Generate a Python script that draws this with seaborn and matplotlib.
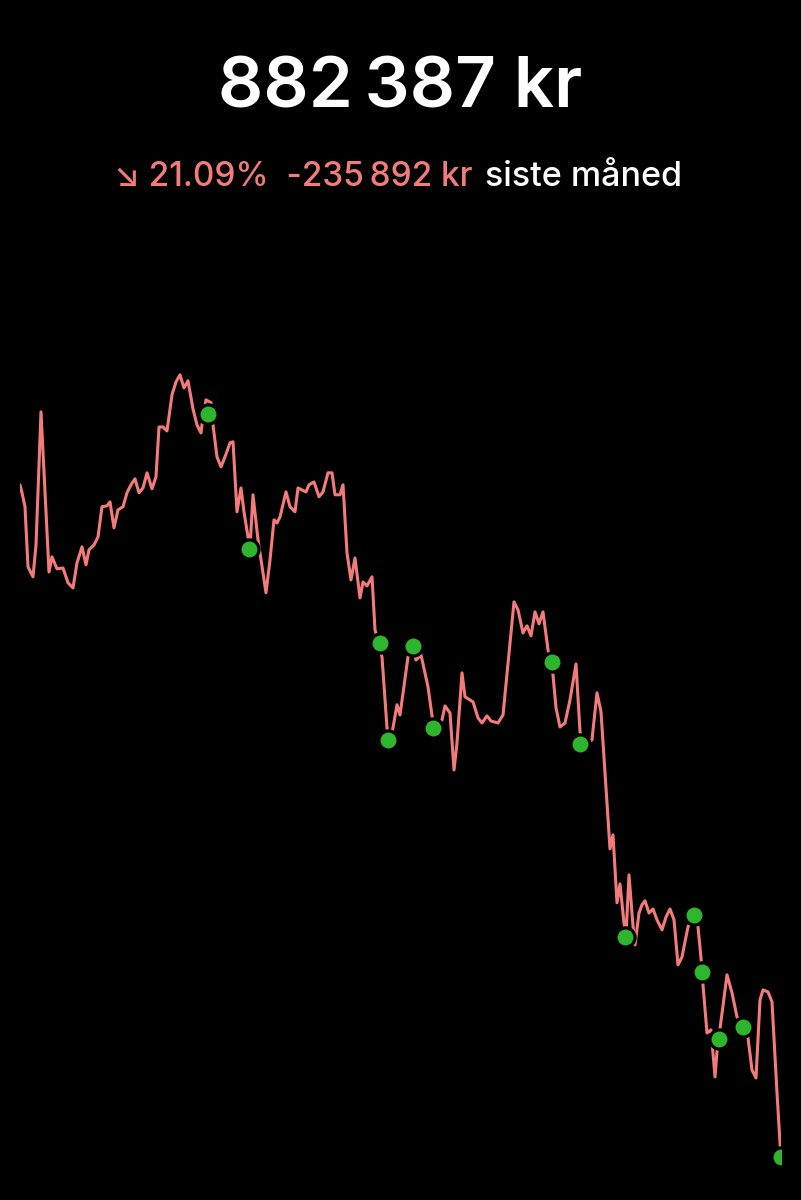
import pandas as pd
import matplotlib.pyplot as plt
import seaborn as sns

# Portfolio value last month (hours since start, kr)
hours = [0, 2, 5, 8, 13, 16, 21, 25, 29, 32, 37, 43, 48, 53, 57, 62, 66, 69, 74, 78,
         82, 87, 90, 94, 98, 103, 107, 111, 115, 119, 123, 127, 132, 136, 139, 143, 147, 152, 156, 160,
         164, 168, 173, 177, 181, 182, 186, 191, 193, 197, 201, 205, 210, 213, 217, 221, 224, 228, 230, 233,
         238, 246, 250, 254, 257, 260, 266, 270, 275, 278, 282, 286, 289, 294, 299, 303, 308, 312, 315, 320,
         323, 327, 331, 335, 340, 343, 347, 352, 355, 359, 362, 367, 369, 373, 377, 380, 388, 392, 396, 401,
         408, 412, 414, 422, 425, 430, 434, 437, 442, 445, 453, 458, 462, 467, 471, 478, 483, 494, 498, 503,
         507, 511, 515, 519, 523, 528, 531, 533, 536, 540, 545, 550, 556, 560, 564, 572, 577, 581, 590, 593,
         597, 600, 604, 606, 609, 613, 615, 619, 622, 625, 629, 633, 637, 642, 646, 650, 654, 658, 662, 668,
         674, 678, 681, 683, 687, 691, 695, 697, 707, 712, 717, 723, 728, 732, 736, 740, 743, 748, 752, 757,
         760, 761]
value_k = [1118.3, 1115.5, 1110.6, 1089.5, 1086.0, 1097.2, 1143.9, 1115.5, 1087.7, 1093.0,
           1088.8, 1089.1, 1083.9, 1082.1, 1090.9, 1096.5, 1090.2, 1095.5, 1097.2, 1100.0,
           1110.6, 1110.9, 1112.3, 1103.2, 1109.5, 1110.6, 1115.5, 1118.3, 1120.4, 1115.5,
           1117.2, 1122.5, 1116.9, 1121.1, 1138.6, 1138.6, 1137.2, 1149.9, 1154.4, 1156.9,
           1152.3, 1154.8, 1144.9, 1139.3, 1136.5, 1139.3, 1148.1, 1147.1, 1139.3, 1128.1,
           1124.6, 1128.1, 1133.0, 1133.4, 1108.8, 1117.2, 1108.8, 1100.0, 1096.2, 1114.8,
           1099.0, 1080.4, 1091.9, 1106.0, 1104.9, 1107.0, 1115.8, 1110.6, 1108.8, 1117.2,
           1116.5, 1115.8, 1118.3, 1119.3, 1114.1, 1115.8, 1122.5, 1122.5, 1114.8, 1114.8,
           1118.3, 1094.4, 1084.9, 1092.6, 1078.6, 1084.2, 1082.8, 1086.0, 1067.4, 1062.1,
           1057.9, 1033.0, 1027.0, 1033.0, 1041.1, 1037.5, 1057.9, 1062.1, 1056.8, 1058.6,
           1047.4, 1037.5, 1032.3, 1035.8, 1040.7, 1038.2, 1018.2, 1027.7, 1052.3, 1043.9,
           1042.1, 1036.5, 1034.7, 1037.2, 1035.4, 1034.7, 1037.5, 1077.2, 1074.4, 1066.3,
           1068.8, 1065.3, 1073.7, 1069.5, 1073.7, 1060.4, 1055.4, 1051.6, 1040.0, 1033.3,
           1034.7, 1042.8, 1055.4, 1031.6, 1026.7, 1028.8, 1045.3, 1038.6, 990.5, 995.4,
           971.6, 978.2, 964.5, 960.3, 981.4, 963.5, 956.8, 968.0, 970.9, 972.3,
           968.0, 969.4, 965.6, 962.1, 966.6, 969.4, 965.6, 949.8, 952.6, 963.1,
           967.3, 963.1, 952.2, 942.8, 925.9, 927.0, 910.5, 919.3, 946.3, 940.0,
           931.5, 928.0, 924.2, 912.9, 910.1, 937.5, 941.0, 940.3, 936.8, 904.9,
           887.3, 882.4]

# Transactions (green dots)
trade_hours = [188, 229, 360, 368, 393, 413, 532, 560, 605, 674, 682, 699, 723, 761]
trade_value_k = [1143.2, 1095.8, 1062.8, 1028.8, 1061.8, 1033.0, 1056.1, 1027.4, 959.6,
                 967.3, 947.3, 923.8, 928.0, 882.4]

title = "882\u2009387 kr"
change_text = "\u2198 21.09%  -235\u2009892 kr"
period_text = "siste måned"

df = pd.DataFrame({'t': hours, 'kr': [v * 1000 for v in value_k]})
trades = pd.DataFrame({'t': trade_hours, 'kr': [v * 1000 for v in trade_value_k]})

sns.set_theme(style='dark')
plt.rcParams['font.family'] = ['Inter', 'DejaVu Sans']

red = '#F47B7B'
green = '#2DB52D'

fig = plt.figure(figsize=(8.01, 12), dpi=100, facecolor='black')
ax = fig.add_axes([20 / 801, 30 / 1200, 761 / 801, 810 / 1200])
ax.set_facecolor('black')

sns.lineplot(data=df, x='t', y='kr', color=red, linewidth=2.2, estimator=None, ax=ax)
sns.scatterplot(data=trades, x='t', y='kr', color=green, s=190, edgecolor='black',
                linewidth=2.3, zorder=3, ax=ax)

ax.set_xlim(0, 761)
ax.set_ylim(877800, 1162100)
ax.axis('off')

fig.text(0.5, 1 - 107 / 1200, title, color='white', fontsize=51, fontweight='semibold',
         ha='center', va='baseline')
fig.text(472 / 801, 1 - 186 / 1200, change_text, color=red, fontsize=24,
         fontweight='medium', ha='right', va='baseline')
fig.text(485 / 801, 1 - 186 / 1200, period_text, color='white', fontsize=24.5,
         fontweight='medium', ha='left', va='baseline')

plt.savefig('out.png', dpi=100, facecolor='black')
